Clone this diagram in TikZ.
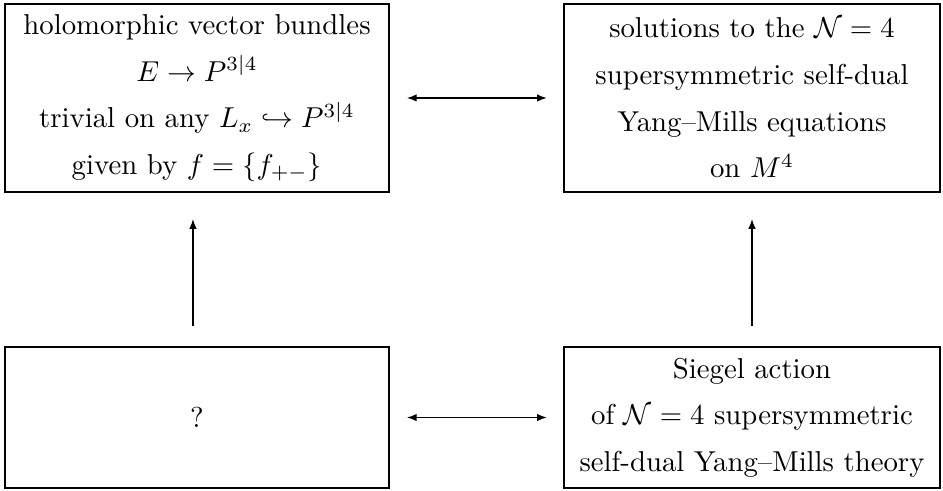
\documentclass[tikz,border=0pt]{standalone}
\usepackage{amssymb}
\usepackage{amsmath}
\usepackage{tikz}
\usetikzlibrary{positioning, arrows.meta}

\begin{document}
\begin{tikzpicture}[
          x=0.3476pt, y=-0.3476pt,
          box/.style={draw, line width=0.75pt, inner sep=0pt, align=center,
            execute at begin node={\setlength{\baselineskip}{16.2pt}}},
          tall/.style={box, minimum height=65.4pt},
          flat/.style={box, minimum height=49pt},
          lbox/.style={minimum width=133.2pt},
          rbox/.style={minimum width=130.7pt},
          link/.style={line width=0.45pt, >={Latex[length=3.4pt,width=2.6pt]}}
        ]
        \useasboundingbox (0,0) rectangle (943,491);
        \node[tall,lbox] (bundles) at (197,98) {holomorphic vector bundles\\
          $E\to P^{3|4}$\\ trivial on any $L_x\hookrightarrow P^{3|4}$\\
          given by $f=\{f_{+-}\}$};
        \node[tall,rbox] (solutions) at (752,98) {solutions to the $\mathcal{N}=4$\\
          supersymmetric self-dual\\ Yang--Mills equations\\ on $M^4$};
        \node[flat,lbox] (unknown) at (197,417.5) {?};
        \node[flat,rbox] (siegel) at (752,417.5) {Siegel action\\
          of $\mathcal{N}=4$ supersymmetric\\ self-dual Yang--Mills theory};
        \draw[link,<->,shorten <=6pt,shorten >=5.6pt] (bundles) -- (solutions);
        \draw[link,<->,shorten <=6pt,shorten >=5.6pt] (unknown) -- (siegel);
        \draw[link,->,shorten <=7pt,shorten >=9pt] ([xshift=-1.4pt]unknown.north) -- ([xshift=-1.4pt]bundles.south);
        \draw[link,->,shorten <=7pt,shorten >=9pt] (siegel) -- (solutions);
      \end{tikzpicture}
\end{document}
